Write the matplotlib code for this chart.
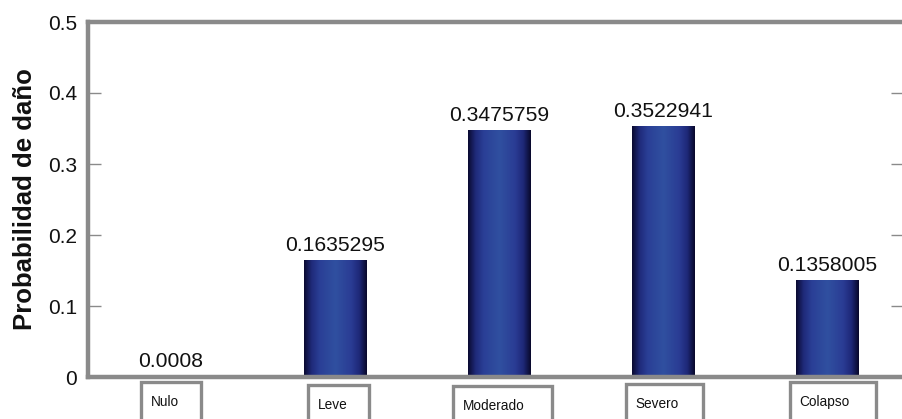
import numpy as np
import matplotlib
matplotlib.use("Agg")
import matplotlib.pyplot as plt
from matplotlib.colors import LinearSegmentedColormap
from matplotlib.patches import Rectangle
from matplotlib.transforms import IdentityTransform

plt.rcParams['font.family'] = ['Liberation Sans', 'DejaVu Sans']

categories = ["Nulo", "Leve", "Moderado", "Severo", "Colapso"]
values = [0.0008, 0.1635295, 0.3475759, 0.3522941, 0.1358005]
value_labels = ["0.0008", "0.1635295", "0.3475759", "0.3522941", "0.1358005"]
yticks = [0, 0.1, 0.2, 0.3, 0.4, 0.5]
ytick_labels = ["0", "0.1", "0.2", "0.3", "0.4", "0.5"]

GRAY = "#8a8a8a"
W, H, DPI = 903, 419, 100

fig = plt.figure(figsize=(W / DPI, H / DPI), dpi=DPI)
ax = fig.add_axes([88 / W, 1 - 377 / H, (W - 88) / W, (377 - 22) / H])

bar_width = 0.378
x = np.arange(len(categories))
bars = ax.bar(x, values, width=bar_width, color="none", edgecolor="none")

# cylinder-like horizontal shading for each bar
shade = LinearSegmentedColormap.from_list(
    "cyl",
    [(0.0, "#0a0a30"), (0.12, "#1f2a7a"), (0.25, "#2a3f96"),
     (0.5, "#3050a0"), (0.75, "#2a3c94"), (0.88, "#1e2878"), (1.0, "#08082a")])
grad = np.linspace(0, 1, 256).reshape(1, -1)
for b in bars:
    x0, w, h = b.get_x(), b.get_width(), b.get_height()
    ax.imshow(grad, cmap=shade, aspect="auto", extent=(x0, x0 + w, 0, h),
              interpolation="bilinear", zorder=2)

ax.set_xlim(-0.506, 4.46)
ax.set_ylim(0, 0.5)

for xi, v, lab in zip(x, values, value_labels):
    ax.annotate(lab, (xi, v), xytext=(0, 4), textcoords="offset points",
                ha="center", va="bottom", fontsize=15.2, color="#111111")

ax.set_yticks(yticks)
ax.set_yticklabels(ytick_labels, fontsize=15, color="#111111")
ax.set_xticks([])
ax.tick_params(axis="y", direction="in", length=9, width=1, color=GRAY,
               right=True, pad=8)
ax.yaxis.set_tick_params(which="major", labelright=False)
ax.set_ylabel("Probabilidad de daño", fontsize=18.5, fontweight="bold",
              labelpad=8, color="#111111")

for side in ["left", "bottom", "top"]:
    ax.spines[side].set_color(GRAY)
    ax.spines[side].set_linewidth(3.2)
ax.spines["right"].set_visible(False)

# boxed category labels under the axis
box_w = [60, 61, 99, 77, 86]
box_top = [382, 385, 386, 384, 382]
box_shift = [0, 3, 3, 1, 5]
fig.canvas.draw()
for xi, cat, bw, bt, sh in zip(x, categories, box_w, box_top, box_shift):
    cx = ax.transData.transform((xi, 0))[0] + sh
    left = cx - bw / 2
    top_disp = H - bt
    rect = Rectangle((left, top_disp - 60), bw, 60, transform=IdentityTransform(),
                     facecolor="white", edgecolor=GRAY, linewidth=2.4,
                     clip_on=False)
    fig.patches.append(rect)
    fig.text((left + 10) / W, (top_disp - 20) / H, cat, fontsize=9.8,
             ha="left", va="center", color="#111111")

fig.savefig("out.png", dpi=DPI)
